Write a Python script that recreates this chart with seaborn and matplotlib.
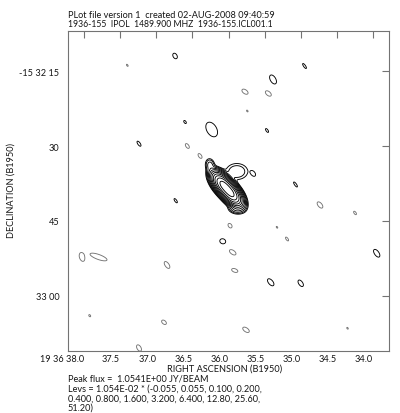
import numpy as np
import matplotlib
matplotlib.use('Agg')
import matplotlib.pyplot as plt
import seaborn as sns

# --- levels as printed under the map ---
base_level = 1.054e-02
level_factors = [-0.055, 0.055, 0.100, 0.200, 0.400, 0.800, 1.600, 3.200, 6.400, 12.80, 25.60, 51.20]

# --- gaussian components ---
# RA in seconds of 19 36, Dec in arcsec south of -15 32 00
# size = sigma in arcsec, pa measured on the page (deg, from right towards down)
comp_ra = [36.072, 35.970, 35.885, 36.256, 35.896,
           36.740, 35.384, 36.233, 34.948, 35.073, 37.239, 36.602, 35.467,
           35.657, 36.080, 35.416, 33.949, 35.001, 36.731,
           35.772, 35.449, 36.570, 36.394, 38.028, 37.799, 36.851, 36.893,
           37.239, 35.979, 35.942, 35.914, 35.758, 34.734, 34.249, 35.190,
           35.740, 37.401, 37.921, 34.353, 35.329]
comp_dec = [37.80, 39.40, 35.10, 33.79, 42.61,
            11.93, 16.64, 26.67, 13.94, 37.70, 29.52, 25.17, 26.87,
            35.53, 49.09, 57.31, 51.49, 57.51, 40.95,
            19.09, 19.45, 29.98, 31.98, 52.30, 52.24, 53.84, 65.33,
            70.49, 45.96, 51.30, 54.94, 66.84, 41.81, 43.41, 48.63,
            22.96, 13.80, 64.01, 66.53, 46.28]
comp_peak = [0.65, 0.65, 0.0021, 0.0030, 0.0040,
             0.00095, 0.00095, 0.00095, 0.00095, 0.00095, 0.00095, 0.00095, 0.00095,
             0.00095, 0.00095, 0.00095, 0.00095, 0.00095, 0.00095,
             -0.00095, -0.00095, -0.00095, -0.00095, -0.00095, -0.00095, -0.00095, -0.00095,
             -0.00095, -0.00095, -0.00095, -0.00095, -0.00095, -0.00095, -0.00095, -0.00095,
             -0.00080, -0.00080, -0.00080, -0.00080, -0.00080]
comp_smaj = [1.25, 1.25, 1.35, 0.70, 0.80,
             0.60, 1.00, 1.60, 0.60, 0.60, 0.60, 0.35, 0.45,
             0.55, 0.60, 0.85, 0.90, 0.75, 0.50,
             0.70, 0.70, 0.55, 0.55, 0.85, 1.80, 0.80, 0.55,
             0.70, 0.50, 0.75, 0.65, 0.75, 0.75, 0.40, 0.45,
             0.25, 0.30, 0.30, 0.25, 0.25]
comp_smin = [0.63, 0.63, 1.00, 0.50, 0.50,
             0.40, 0.55, 1.00, 0.20, 0.20, 0.25, 0.20, 0.20,
             0.35, 0.50, 0.45, 0.45, 0.40, 0.20,
             0.40, 0.40, 0.30, 0.30, 0.50, 0.50, 0.40, 0.35,
             0.40, 0.35, 0.40, 0.35, 0.40, 0.40, 0.20, 0.20,
             0.15, 0.15, 0.20, 0.15, 0.15]
comp_pa = [50, 50, 0, 80, 10,
           60, 60, 60, 55, 55, 55, 55, 55,
           55, 20, 50, 55, 55, 55,
           35, 40, 55, 55, 70, 20, 55, 40,
           60, 55, 35, 20, 35, 50, 55, 55,
           55, 55, 55, 55, 55]

x_ticks = [38.0, 37.5, 37.0, 36.5, 36.0, 35.5, 35.0, 34.5, 34.0]
x_labels = ['19 36 38.0', '37.5', '37.0', '36.5', '36.0', '35.5', '35.0', '34.5', '34.0']
y_ticks = [15, 30, 45, 60]
y_labels = ['-15 32 15', '30', '45', '33 00']

# --- build the map ---
ra = np.linspace(33.70, 38.30, 1330)
dec = np.linspace(6.0, 72.0, 1320)
RA, DEC = np.meshgrid(ra, dec)
sec_to_arcsec = 15 * np.cos(np.radians(15.53))

Z = np.zeros_like(RA)
for r0, d0, p, sa, sb, pa in zip(comp_ra, comp_dec, comp_peak, comp_smaj, comp_smin, comp_pa):
    u = (r0 - RA) * sec_to_arcsec
    v = DEC - d0
    t = np.radians(pa)
    a = u * np.cos(t) + v * np.sin(t)
    b = -u * np.sin(t) + v * np.cos(t)
    Z += p * np.exp(-0.5 * (a**2 / sa**2 + b**2 / sb**2))

levels = [base_level * f for f in level_factors]

# --- plot ---
sns.set_style('white')
plt.rcParams['font.family'] = ['Lato', 'DejaVu Sans']

fig = plt.figure(figsize=(4.0, 4.14), dpi=100)
ax = fig.add_axes([0.1693, 0.1505, 0.802, 0.7734])

ax.contour(RA, DEC, Z, levels=levels, colors=['0.45'] + ['k'] * (len(levels) - 1),
           linewidths=0.65, linestyles='solid')

ax.set_xlim(38.2256, 33.7855)
ax.set_ylim(71.03, 6.82)
ax.set_xticks(x_ticks)
ax.set_xticklabels(x_labels, ha='right')
ax.set_yticks(y_ticks)
ax.set_yticklabels(y_labels)
ax.tick_params(direction='in', length=5, width=0.8, color='0.45', top=True, right=True,
               labelsize=6.6, labelcolor='#151515')
ax.tick_params(axis='x', pad=2.5)
ax.tick_params(axis='y', pad=6)
for s in ax.spines.values():
    s.set_color('0.45')
    s.set_linewidth(0.8)

fs = 6.6
tc = '#151515'
fig.text(67.7 / 400, 1 - 15.7 / 414, 'PLot file version 1  created 02-AUG-2008 09:40:59',
         ha='left', va='center', fontsize=fs, color=tc)
fig.text(67.7 / 400, 1 - 24.5 / 414, '1936-155  IPOL  1489.900 MHZ  1936-155.ICL001.1',
         ha='left', va='center', fontsize=6.2, color=tc)
fig.text(225 / 400, 1 - 369.3 / 414, 'RIGHT ASCENSION (B1950)',
         ha='center', va='center', fontsize=fs, color=tc)
fig.text(11 / 400, 1 - 191 / 414, 'DECLINATION (B1950)', rotation=90,
         ha='center', va='center', fontsize=fs, color=tc)
fig.text(67.7 / 400, 1 - 379 / 414, 'Peak flux =  1.0541E+00 JY/BEAM',
         ha='left', va='center', fontsize=fs, color=tc)
fig.text(67.7 / 400, 1 - 389 / 414, 'Levs = 1.054E-02 * (-0.055, 0.055, 0.100, 0.200,',
         ha='left', va='center', fontsize=fs, color=tc)
fig.text(67.7 / 400, 1 - 399 / 414, '0.400, 0.800, 1.600, 3.200, 6.400, 12.80, 25.60,',
         ha='left', va='center', fontsize=fs, color=tc)
fig.text(67.7 / 400, 1 - 408.5 / 414, '51.20)',
         ha='left', va='center', fontsize=fs, color=tc)

fig.savefig('out.png', dpi=100)
